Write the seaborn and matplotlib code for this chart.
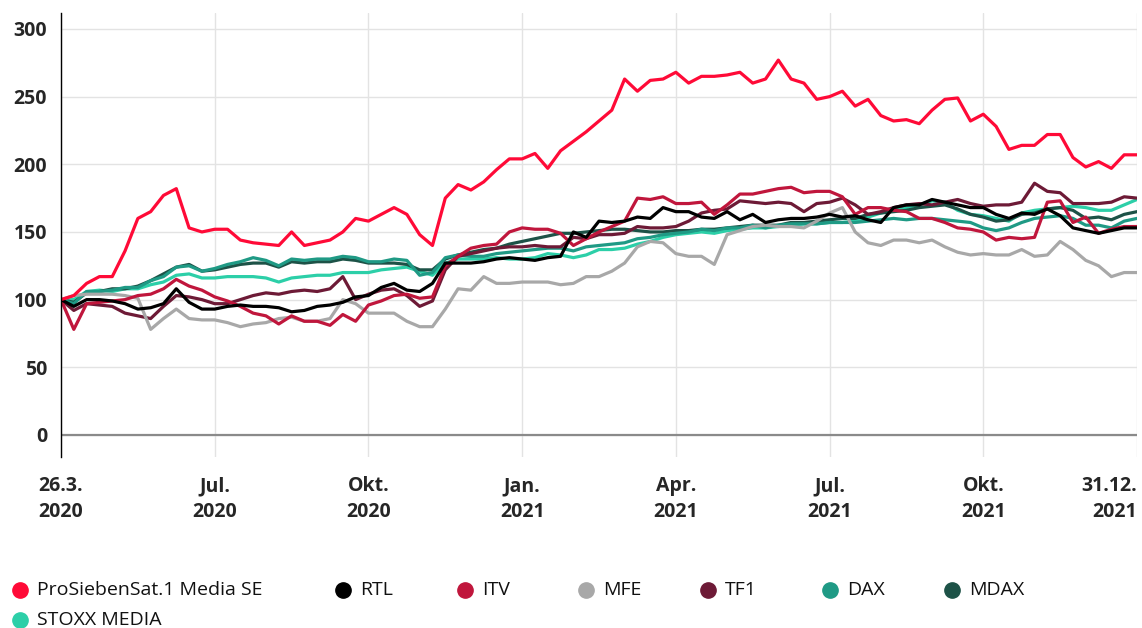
import numpy as np
import pandas as pd
import matplotlib
matplotlib.use("Agg")
import matplotlib.pyplot as plt
import seaborn as sns

prosieben = [100, 103, 112, 117, 117, 136, 160, 165, 177, 182, 153, 150, 152, 152, 144, 142, 141, 140,
             150, 140, 142, 144, 150, 160, 158, 163, 168, 163, 148, 140, 175, 185, 181, 187, 196, 204,
             204, 208, 197, 210, 217, 224, 232, 240, 263, 254, 262, 263, 268, 260, 265, 265, 266, 268,
             260, 263, 277, 263, 260, 248, 250, 254, 243, 248, 236, 232, 233, 230, 240, 248, 249, 232,
             237, 228, 211, 214, 214, 222, 222, 205, 198, 202, 197, 207, 207]
rtl = [100, 95, 100, 100, 99, 97, 93, 94, 97, 108, 98, 93, 93, 95, 96, 95, 95, 94, 91, 92, 95, 96,
       98, 102, 103, 109, 112, 107, 106, 112, 127, 127, 127, 128, 130, 131, 130, 129, 131, 132, 150,
       146, 158, 157, 158, 161, 160, 168, 165, 165, 161, 160, 165, 159, 163, 157, 159, 160, 160, 161,
       163, 161, 162, 159, 157, 168, 170, 170, 174, 172, 170, 168, 168, 163, 160, 164, 163, 167, 162,
       153, 151, 149, 151, 153, 153]
itv = [100, 78, 97, 98, 99, 100, 103, 104, 108, 115, 110, 107, 102, 99, 95, 90, 88, 82, 88, 84, 84,
       81, 89, 84, 96, 99, 103, 104, 101, 102, 125, 132, 138, 140, 141, 150, 153, 152, 152, 149, 140,
       145, 150, 154, 158, 175, 174, 176, 171, 171, 172, 163, 170, 178, 178, 180, 182, 183, 179, 180,
       180, 176, 163, 168, 168, 166, 165, 160, 160, 157, 153, 152, 150, 144, 146, 145, 146, 172, 173,
       157, 161, 149, 152, 154, 154]
mfe = [100, 103, 104, 104, 104, 103, 101, 78, 86, 93, 86, 85, 85, 83, 80, 82, 83, 86, 87, 84, 84,
       86, 100, 97, 90, 90, 90, 84, 80, 80, 93, 108, 107, 117, 112, 112, 113, 113, 113, 111, 112, 117,
       117, 121, 127, 139, 143, 142, 134, 132, 132, 126, 148, 151, 154, 155, 154, 154, 153, 158, 164,
       168, 150, 142, 140, 144, 144, 142, 144, 139, 135, 133, 134, 133, 133, 137, 132, 133, 143, 137,
       129, 125, 117, 120, 120]
tf1 = [100, 92, 97, 96, 95, 90, 88, 86, 95, 103, 102, 100, 97, 97, 100, 103, 105, 104, 106, 107, 106,
       108, 117, 100, 104, 107, 108, 103, 95, 99, 122, 132, 134, 136, 138, 139, 139, 140, 139, 139, 146,
       145, 148, 148, 149, 154, 153, 153, 154, 158, 164, 166, 167, 173, 172, 171, 172, 171, 165, 171,
       172, 175, 170, 163, 165, 168, 170, 171, 170, 172, 174, 171, 169, 170, 170, 172, 186, 180, 179,
       171, 171, 171, 172, 176, 175]
dax = [100, 97, 106, 106, 107, 109, 109, 114, 117, 124, 125, 121, 123, 126, 128, 131, 129, 125, 130,
       129, 130, 130, 132, 131, 128, 128, 130, 129, 118, 120, 131, 133, 132, 132, 134, 135, 136, 137,
       138, 138, 136, 139, 140, 141, 142, 145, 146, 148, 149, 150, 152, 151, 153, 153, 155, 153, 155,
       156, 156, 156, 157, 157, 157, 158, 159, 160, 159, 160, 160, 159, 158, 157, 153, 151, 153, 157,
       160, 161, 162, 160, 155, 155, 153, 158, 160]
mdax = [100, 98, 105, 106, 108, 108, 110, 114, 119, 124, 126, 121, 122, 124, 126, 127, 127, 124, 128,
        127, 128, 128, 130, 129, 127, 127, 127, 126, 122, 122, 130, 133, 135, 137, 138, 141, 143, 145,
        147, 149, 149, 150, 151, 152, 152, 151, 150, 150, 151, 151, 152, 152, 153, 154, 155, 155, 155,
        157, 157, 158, 159, 160, 160, 163, 164, 165, 166, 168, 169, 170, 167, 163, 161, 158, 159, 163,
        164, 167, 168, 166, 160, 161, 159, 163, 165]
stoxx = [100, 100, 106, 107, 106, 108, 108, 111, 113, 118, 119, 116, 116, 117, 117, 117, 116, 113, 116,
         117, 118, 118, 120, 120, 120, 122, 123, 124, 121, 118, 127, 130, 130, 130, 131, 130, 130, 131,
         134, 133, 131, 133, 137, 137, 138, 141, 143, 146, 148, 149, 150, 149, 151, 152, 153, 153, 154,
         155, 156, 156, 157, 157, 158, 161, 164, 166, 168, 170, 173, 172, 166, 163, 162, 160, 158, 164,
         166, 167, 168, 169, 168, 166, 166, 170, 174]

namen = ["ProSiebenSat.1 Media SE", "RTL", "ITV", "MFE", "TF1", "DAX", "MDAX", "STOXX MEDIA"]
farben = ["#ff0a37", "#000000", "#c0163c", "#a8a8a8", "#6d1a36", "#1f9a85", "#1d5247", "#2ccfa8"]
tick_labels = ["26.3.\n2020", "Jul.\n2020", "Okt.\n2020", "Jan.\n2021", "Apr.\n2021",
               "Jul.\n2021", "Okt.\n2021", "31.12.\n2021"]

reihen = [prosieben, rtl, itv, mfe, tf1, dax, mdax, stoxx]

# Long-Format fuer seaborn
df = pd.concat([pd.DataFrame({"t": np.arange(len(r)), "wert": r, "serie": n})
                for n, r in zip(namen, reihen)], ignore_index=True)

sns.set_style("white")
plt.rcParams["font.family"] = ["Open Sans", "DejaVu Sans"]

fig = plt.figure(figsize=(11.42, 6.28), dpi=100)
ax = fig.add_axes([61 / 1142, 1 - 457 / 628, (1137 - 61) / 1142, (457 - 13) / 628])

# Zeichenreihenfolge: ProSieben zuletzt (oben)
reihenfolge = namen[::-1]
sns.lineplot(data=df, x="t", y="wert", hue="serie", hue_order=reihenfolge,
             palette=dict(zip(namen, farben)), linewidth=2.3, legend=False, ax=ax)
for line in ax.get_lines():
    line.set_solid_joinstyle("round")

n = len(prosieben) - 1
ax.set_xlim(0, n)
ax.set_ylim(-16.3, 311.8)
ax.set_yticks(range(0, 301, 50))
ax.set_xticks(np.linspace(0, n, len(tick_labels)))
ax.set_xticklabels(tick_labels, fontweight="bold", fontsize=14, linespacing=1.4)
ax.set_yticklabels([str(v) for v in range(0, 301, 50)], fontweight="bold", fontsize=14)
# letztes Label rechtsbuendig, damit es nicht abgeschnitten wird
ax.get_xticklabels()[-1].set_horizontalalignment("right")
ax.tick_params(axis="y", length=0, pad=10)
ax.tick_params(axis="x", length=0, pad=14)
ax.set_xlabel("")
ax.set_ylabel("")

ax.grid(True, color="#e3e3e3", linewidth=1)
ax.set_axisbelow(True)
ax.axhline(0, color="#8a8a8a", linewidth=1.6, zorder=1.5)

for s in ["top", "right", "bottom"]:
    ax.spines[s].set_visible(False)
ax.spines["left"].set_color("black")
ax.spines["left"].set_linewidth(1)

# Legende manuell (gleichmaessige Abstaende)
leg_x = [20, 343, 465, 586, 708, 830, 952, 20]
leg_y = [590, 590, 590, 590, 590, 590, 590, 620]
for name, farbe, lx, ly in zip(namen, farben, leg_x, leg_y):
    fx, fy = lx / 1142, 1 - ly / 628
    fig.add_artist(plt.Line2D([fx], [fy], marker="o", markersize=11, color=farbe,
                              linestyle="none", transform=fig.transFigure))
    fig.text(fx + 17 / 1142, fy, name, fontsize=14, va="center", ha="left", color="#111111")

fig.savefig("out.png", dpi=100)
